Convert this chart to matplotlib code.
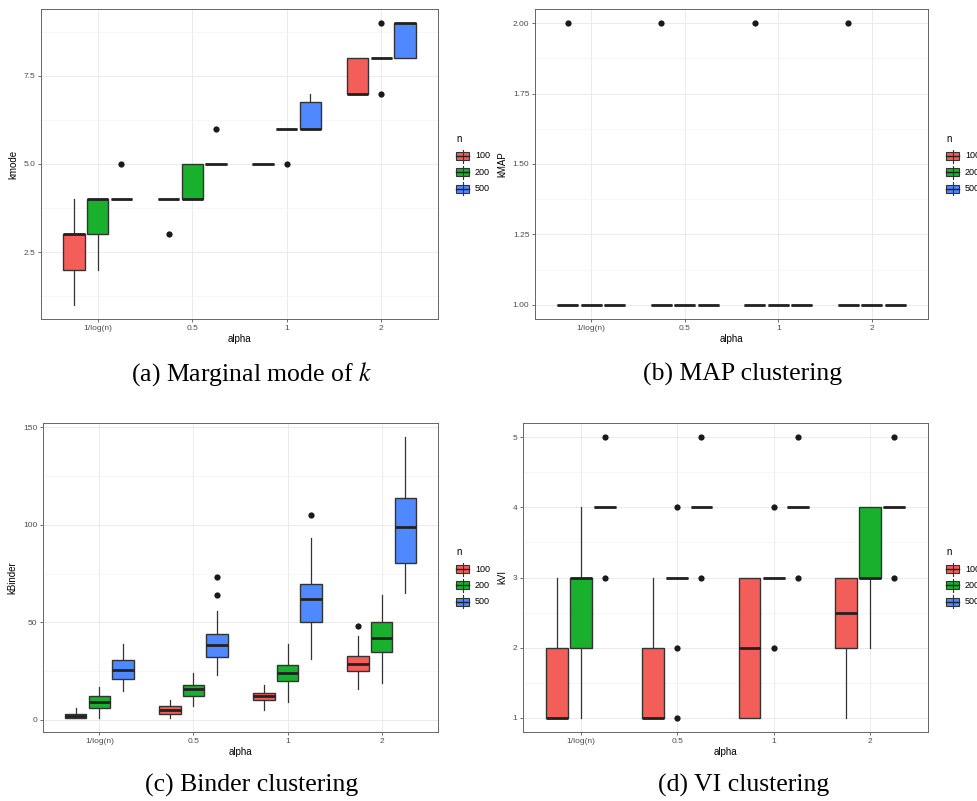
import matplotlib
matplotlib.use("Agg")
import matplotlib.pyplot as plt
from matplotlib.patches import Rectangle
from matplotlib.lines import Line2D
import numpy as np

plt.rcParams['font.family'] = ['Liberation Sans', 'DejaVu Sans']
plt.rcParams['mathtext.fontset'] = 'stix'

# categories
alpha_labels = ['1/log(n)', '0.5', '1', '2']
n_levels = ['100', '200', '500']
colors = ['#F35E5A', '#18B02C', '#5088FF']

# five-number summaries (whislo, q1, median, q3, whishi), rows = alpha, cols = n
kmode_summary = [
    [(1, 2, 3, 3, 4), (2, 3, 4, 4, 4), (4, 4, 4, 4, 4)],
    [(4, 4, 4, 4, 4), (4, 4, 4, 5, 5), (5, 5, 5, 5, 5)],
    [(5, 5, 5, 5, 5), (6, 6, 6, 6, 6), (6, 6, 6, 6.75, 7)],
    [(7, 7, 7, 8, 8), (8, 8, 8, 8, 8), (8, 8, 9, 9, 9)],
]
kmode_outliers = [
    [[], [], [5]],
    [[3], [], [6]],
    [[], [5], []],
    [[], [9, 7], []],
]

kmap_summary = [
    [(1, 1, 1, 1, 1), (1, 1, 1, 1, 1), (1, 1, 1, 1, 1)],
    [(1, 1, 1, 1, 1), (1, 1, 1, 1, 1), (1, 1, 1, 1, 1)],
    [(1, 1, 1, 1, 1), (1, 1, 1, 1, 1), (1, 1, 1, 1, 1)],
    [(1, 1, 1, 1, 1), (1, 1, 1, 1, 1), (1, 1, 1, 1, 1)],
]
kmap_outliers = [
    [[2], [], []],
    [[2], [], []],
    [[2], [], []],
    [[2], [], []],
]

kbinder_summary = [
    [(1, 1, 2, 3, 6), (1, 6, 9, 12, 17), (15, 21, 25.5, 30.5, 39)],
    [(1, 3, 5, 7, 10), (7, 12, 16, 18, 24), (23, 32, 38.5, 44, 56)],
    [(5, 10, 12.5, 14, 18), (9, 20, 24, 28, 39), (31, 50, 62, 69.5, 93)],
    [(16, 25, 28.5, 33, 43), (19, 35, 42, 50, 64), (65, 80.5, 99, 113.5, 145)],
]
kbinder_outliers = [
    [[], [], []],
    [[], [], [64, 73]],
    [[], [], [105]],
    [[48], [], []],
]

kvi_summary = [
    [(1, 1, 1, 2, 3), (1, 2, 3, 3, 4), (4, 4, 4, 4, 4)],
    [(1, 1, 1, 2, 3), (3, 3, 3, 3, 3), (4, 4, 4, 4, 4)],
    [(1, 1, 2, 3, 3), (3, 3, 3, 3, 3), (4, 4, 4, 4, 4)],
    [(1, 2, 2.5, 3, 3), (2, 3, 3, 4, 4), (4, 4, 4, 4, 4)],
]
kvi_outliers = [
    [[], [], [5, 3]],
    [[], [4, 2, 1], [5, 3]],
    [[], [4, 2], [5, 3]],
    [[], [], [5, 3]],
]

W, H = 977, 801
fig = plt.figure(figsize=(W / 100, H / 100), dpi=100)


def frac(x, y):
    return x / W, 1 - y / H


def add_panel(left, right, top, bottom):
    x0, y1 = frac(left, top)
    x1, y0 = frac(right, bottom)
    return fig.add_axes([x0, y0, x1 - x0, y1 - y0])


def draw_boxes(ax, summary, outliers, ylabel, yticks, yminor, yfmt):
    for i in range(len(alpha_labels)):
        for j in range(len(n_levels)):
            lo, q1, med, q3, hi = summary[i][j]
            st = dict(whislo=lo, q1=q1, med=med, q3=q3, whishi=hi,
                      fliers=outliers[i][j])
            pos = i + 1 + (j - 1) * 0.25
            bp = ax.bxp([st], positions=[pos], widths=0.225, patch_artist=True,
                        showcaps=False, manage_ticks=False,
                        boxprops=dict(facecolor=colors[j], edgecolor='#333333', linewidth=1.0),
                        whiskerprops=dict(color='#333333', linewidth=0.9),
                        medianprops=dict(color='#222222', linewidth=2.0, solid_capstyle='butt'),
                        flierprops=dict(marker='o', markerfacecolor='#1a1a1a',
                                        markeredgecolor='none', markersize=4.5))
            for b in bp['boxes']:
                b.set_zorder(3)
            for m in bp['medians']:
                m.set_zorder(4)

    vals = []
    for i in range(len(alpha_labels)):
        for j in range(len(n_levels)):
            vals += list(summary[i][j]) + list(outliers[i][j])
    vmin, vmax = min(vals), max(vals)
    pad = (vmax - vmin) * 0.05
    ax.set_ylim(vmin - pad, vmax + pad)
    ax.set_xlim(0.4, 4.6)
    ax.set_xticks(range(1, 5))
    ax.set_xticklabels(alpha_labels)
    ax.set_yticks(yticks)
    ax.set_yticklabels([yfmt.format(v) for v in yticks])
    ax.set_yticks(yminor, minor=True)
    ax.grid(True, which='major', color='#EBEBEB', linewidth=0.7, zorder=0)
    ax.grid(True, which='minor', axis='y', color='#F3F3F3', linewidth=0.45, zorder=0)
    ax.set_axisbelow(True)
    ax.tick_params(axis='both', which='major', labelsize=6, labelcolor='#4D4D4D',
                   color='#333333', length=2.5, width=0.5, pad=1.5)
    ax.tick_params(axis='y', which='minor', length=0)
    for s in ax.spines.values():
        s.set_color('#666666')
        s.set_linewidth(0.7)
    ax.set_xlabel('alpha', fontsize=7, labelpad=2)
    ax.set_ylabel(ylabel, fontsize=7, labelpad=4)


def draw_legend(x, y):
    fig.text(*frac(x, y), 'n', fontsize=7, ha='left', va='center')
    for j, lab in enumerate(n_levels):
        cy = y + 17 + j * 16.3
        kx0, ky0 = frac(x, cy + 4)
        kx1, ky1 = frac(x + 13, cy - 4)
        cx, _ = frac(x + 6.5, cy)
        _, wy0 = frac(0, cy + 6.5)
        _, wy1 = frac(0, cy - 6.5)
        fig.add_artist(Line2D([cx, cx], [wy0, wy1], color='#333333', linewidth=0.8))
        fig.add_artist(Rectangle((kx0, ky0), kx1 - kx0, ky1 - ky0, facecolor=colors[j],
                                 edgecolor='#333333', linewidth=0.8))
        _, my = frac(0, cy)
        fig.add_artist(Line2D([kx0, kx1], [my, my], color='#222222', linewidth=1.0))
        fig.text(*frac(x + 19, cy), lab, fontsize=6.5, ha='left', va='center')


ax_a = add_panel(41, 438, 9, 319)
draw_boxes(ax_a, kmode_summary, kmode_outliers, 'kmode',
           [2.5, 5.0, 7.5], [1.25, 3.75, 6.25, 8.75], '{:.1f}')
draw_legend(456, 139)

ax_b = add_panel(535, 928, 9, 319)
draw_boxes(ax_b, kmap_summary, kmap_outliers, 'kMAP',
           [1.0, 1.25, 1.5, 1.75, 2.0], [1.125, 1.375, 1.625, 1.875], '{:.2f}')
draw_legend(946, 139)

ax_c = add_panel(43, 438, 423, 732)
draw_boxes(ax_c, kbinder_summary, kbinder_outliers, 'kBinder',
           [0, 50, 100, 150], [25, 75, 125], '{:d}')
draw_legend(456, 552)

ax_d = add_panel(523, 928, 423, 732)
draw_boxes(ax_d, kvi_summary, kvi_outliers, 'kVI',
           [1, 2, 3, 4, 5], [1.5, 2.5, 3.5, 4.5], '{:d}')
draw_legend(946, 552)

cap = dict(fontsize=18.5, family='Liberation Serif', ha='center', va='center')
fig.text(*frac(252, 374), '(a) Marginal mode of $k$', **cap)
fig.text(*frac(743, 374), '(b) MAP clustering', **cap)
fig.text(*frac(252, 785), '(c) Binder clustering', **cap)
fig.text(*frac(744, 785), '(d) VI clustering', **cap)

fig.savefig('out.png', dpi=100)
